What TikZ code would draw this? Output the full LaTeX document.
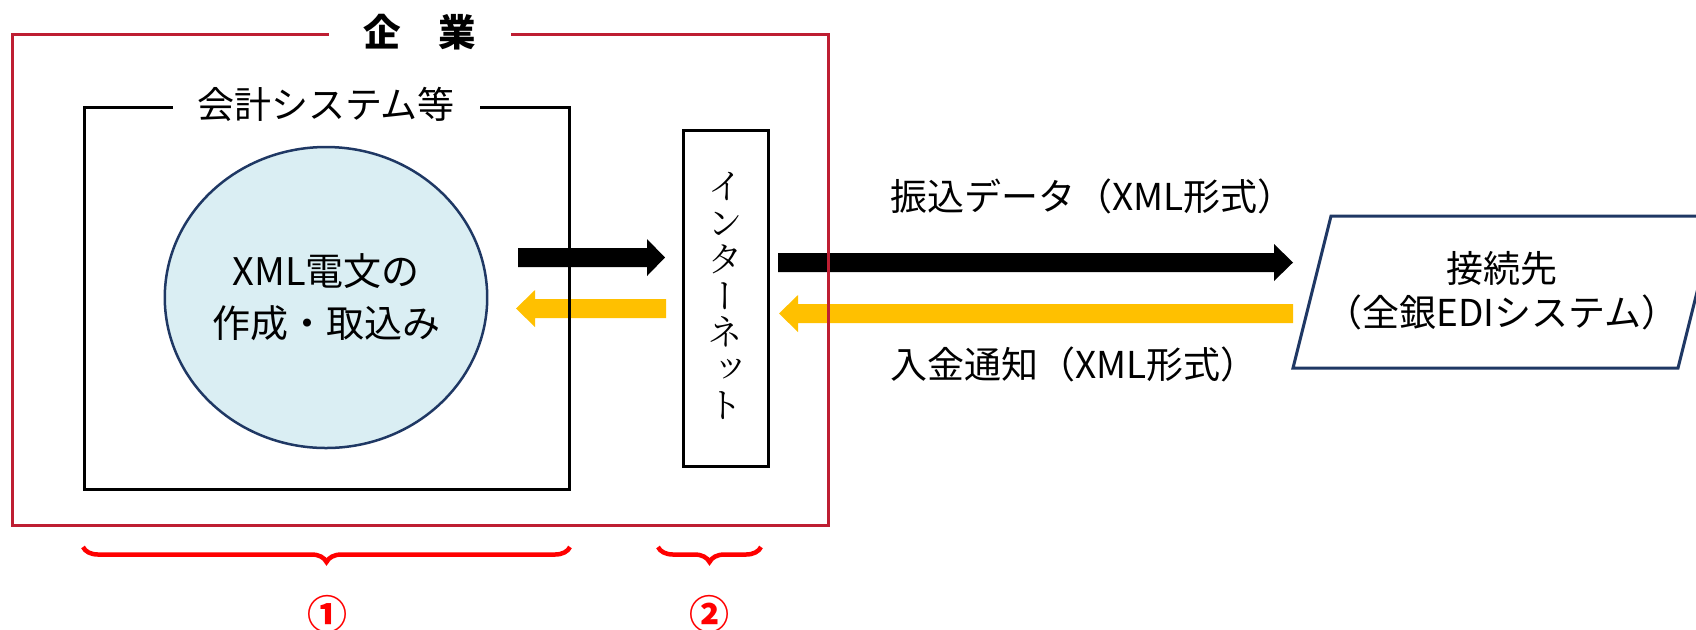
\documentclass[tikz,border=0pt]{standalone}
\usepackage{fontspec}
\setmainfont{Noto Sans CJK JP}
\newfontfamily\serifjp[RawFeature=+vert]{Noto Serif CJK JP}
\usetikzlibrary{shapes.geometric,decorations.pathreplacing,calc}
\definecolor{boxred}{RGB}{190,30,50}
\definecolor{navy}{RGB}{31,56,100}
\definecolor{ellfill}{RGB}{218,238,243}
\definecolor{gold}{RGB}{255,192,0}
\newcommand\myblockarrow[4]{%
  \fill[#1] ($(#2)+(0,-9.5)$) -- ($(#3)+(#4,-9.5)$) -- ($(#3)+(#4,-18.5)$) -- (#3)
    -- ($(#3)+(#4,18.5)$) -- ($(#3)+(#4,9.5)$) -- ($(#2)+(0,9.5)$) -- cycle;}
\begin{document}
\begin{tikzpicture}[x=0.5pt,y=-0.5pt,
  lbl/.style={inner sep=0pt,font=\fontsize{18.5}{22}\selectfont},
  framelbl/.style={lbl,fill=white,minimum height=6pt},
  redbrace/.style={draw=red,line width=2.25pt,decorate,decoration={brace,amplitude=7.5pt}},
  circnum/.style={inner sep=0pt,text=red,font=\bfseries\fontsize{20}{20}\selectfont}]
\useasboundingbox (0,0) rectangle (1696,629);
% arrows (drawn first, frames on top)
\coordinate (a1s) at (518,257.5); \coordinate (a1t) at (665,257.5);
\coordinate (b1s) at (666,308.5); \coordinate (b1t) at (516,308.5);
\coordinate (a2s) at (778,262.5); \coordinate (a2t) at (1293,262.5);
\coordinate (b2s) at (1293,313.5); \coordinate (b2t) at (779,313.5);
\myblockarrow{black}{a1s}{a1t}{-18}
\myblockarrow{gold}{b1s}{b1t}{19}
\myblockarrow{black}{a2s}{a2t}{-19}
\myblockarrow{gold}{b2s}{b2t}{19}
% company frame
\draw[boxred,line width=1.5pt] (12,34) rectangle (828,525);
\node[framelbl,minimum width=91pt,font=\bfseries\fontsize{18.75}{20}\selectfont] (corp) at (420,32) {企　業};
% accounting system frame
\draw[black,line width=1.5pt] (84,107) rectangle (569,489);
\node[framelbl,minimum width=153.5pt] (acct) at (326,104) {会計システム等};
% ellipse
\node[ellipse,draw=navy,line width=1.25pt,fill=ellfill,minimum width=158pt,minimum height=150.5pt,
  align=center,inner sep=0pt,font=\fontsize{19}{26}\selectfont] (xml) at (326,297.5) {XML電文の\\作成・取込み};
% internet box
\draw[black,line width=1.5pt] (683,130) rectangle (768,466);
\node[inner sep=0pt,align=center,font=\serifjp\fontsize{18}{18.25}\selectfont] (net) at (725.5,296)
  {イ\\ン\\タ\\ー\\ネ\\ッ\\ト};
% flow labels
\node[lbl,anchor=west] (send) at (890,196) {振込データ（XML形式）};
\node[lbl,anchor=west] (recv) at (890,364) {入金通知（XML形式）};
% destination parallelogram
\coordinate (p1) at (1331,216); \coordinate (p2) at (1716,216);
\coordinate (p3) at (1678,368); \coordinate (p4) at (1293,368);
\draw[navy,line width=1.5pt,line join=miter] (p1) -- (p2) -- (p3) -- (p4) -- cycle;
\node[inner sep=0pt,align=center,font=\fontsize{18.5}{22}\selectfont] (dest) at (1502,291)
  {接続先\\（全銀EDIシステム）};
% braces
\draw[redbrace] (570,547) -- (83,547);
\draw[redbrace] (761,547) -- (658,547);
\node[circnum] (n1) at (327,614) {①};
\node[circnum] (n2) at (709,614) {②};
\end{tikzpicture}
\end{document}
